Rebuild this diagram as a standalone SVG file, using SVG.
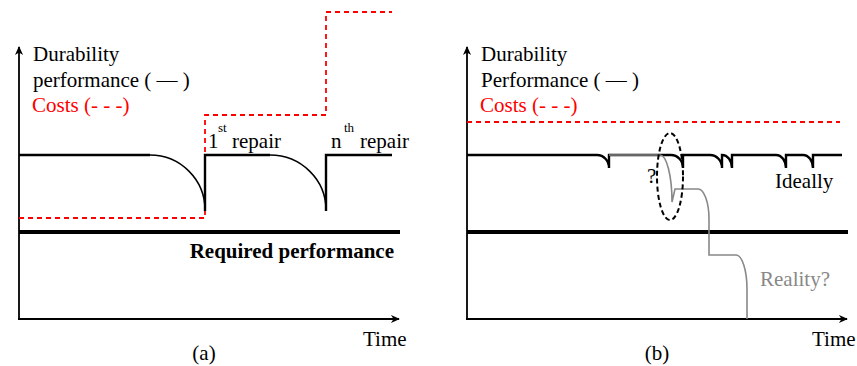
<svg xmlns="http://www.w3.org/2000/svg" width="857" height="366" viewBox="0 0 857 366">
<defs>
<marker id="arr" viewBox="0 0 10 10" refX="9" refY="5" markerWidth="10" markerHeight="9" markerUnits="userSpaceOnUse" orient="auto">
<path d="M0,0.5 L10,5 L0,9.5 L3,5 Z" fill="#000"/>
</marker>
</defs>
<style>
text{font-family:'Liberation Serif','Times New Roman','DejaVu Serif',serif;font-size:21px;fill:#000}
.red{fill:#f00}
.gray{fill:#888}
.bold{font-weight:bold}
.sup{font-size:13px}
.axis{stroke:#000;stroke-width:1.8;fill:none}
.perf{stroke:#000;stroke-width:2.4;fill:none}
.curve{stroke:#000;stroke-width:1.5;fill:none}
.cost{stroke:#f00;stroke-width:1.8;fill:none;stroke-dasharray:5 4}
.req{stroke:#000;stroke-width:4;fill:none}
.real{stroke:#888;stroke-width:1.6;fill:none}
.ell{stroke:#000;stroke-width:2;fill:none;stroke-dasharray:5 3}
</style>

<g id="panel-a">
<g id="a-axes">
<line class="axis" x1="19" y1="320" x2="19" y2="47" marker-end="url(#arr)"/>
<line class="axis" x1="18" y1="319" x2="399" y2="319" marker-end="url(#arr)"/>
</g>
<g id="a-labels">
<text x="33" y="61">Durability</text>
<text x="33" y="87">performance ( — )</text>
<text x="32" y="112" class="red">Costs (- - -)</text>
<text x="394" y="258" text-anchor="end" class="bold">Required performance</text>
<text x="363" y="346">Time</text>
<text x="204" y="360" text-anchor="middle">(a)</text>
<text x="208" y="148">1</text>
<text x="218" y="132" class="sup">st</text>
<text x="232" y="148">repair</text>
<text x="331" y="148">n</text>
<text x="344" y="132" class="sup">th</text>
<text x="360" y="148">repair</text>
</g>
<g id="a-cost">
<path class="cost" d="M19,218 H205 V115 H326 V12 H392"/>
</g>
<g id="a-required">
<line class="req" x1="19" y1="232" x2="400" y2="232"/>
</g>
<g id="a-performance">
<path class="perf" d="M19,155 H150"/>
<path class="curve" d="M150,155 A55,55 0 0 1 205,210"/>
<path class="perf" d="M205,211 V155 H270"/>
<path class="curve" d="M270,155 A56,55 0 0 1 326,210"/>
<path class="perf" d="M326,211 V155 H392"/>
</g>
</g>

<g id="panel-b">
<g id="b-axes">
<line class="axis" x1="467" y1="320" x2="467" y2="47" marker-end="url(#arr)"/>
<line class="axis" x1="466" y1="319" x2="847" y2="319" marker-end="url(#arr)"/>
</g>
<g id="b-labels">
<text x="481" y="61">Durability</text>
<text x="481" y="87">Performance ( — )</text>
<text x="480" y="112" class="red">Costs (- - -)</text>
<text x="775" y="188">Ideally</text>
<text x="760" y="286" class="gray">Reality?</text>
<text x="647" y="183">?</text>
<text x="812" y="346">Time</text>
<text x="657" y="360" text-anchor="middle">(b)</text>
</g>
<g id="b-cost">
<line class="cost" x1="467" y1="122" x2="840" y2="122"/>
</g>
<g id="b-required">
<line class="req" x1="467" y1="232" x2="848" y2="232"/>
</g>
<g id="b-ideal">
<path class="perf" d="M467,155 H597 A12,13 0 0 1 609,168 V155 H671 A12,13 0 0 1 683,168 V155 H710 A12,13 0 0 1 722,168 V155 A10,13 0 0 1 732,168 V155 H776 A10,13 0 0 1 786,168 V155 H803 A10,13 0 0 1 813,168 V155 H842"/>
</g>
<g id="b-reality">
<path class="real" d="M609,155 H660 A12,47 0 0 1 672,202 L675,189 H698 A11,30 0 0 1 709,219 V255 H736 A11,34 0 0 1 747,289 V319"/>
</g>
<g id="b-ellipse">
<ellipse class="ell" cx="670" cy="176.5" rx="13" ry="43.5"/>
</g>
</g>
</svg>
